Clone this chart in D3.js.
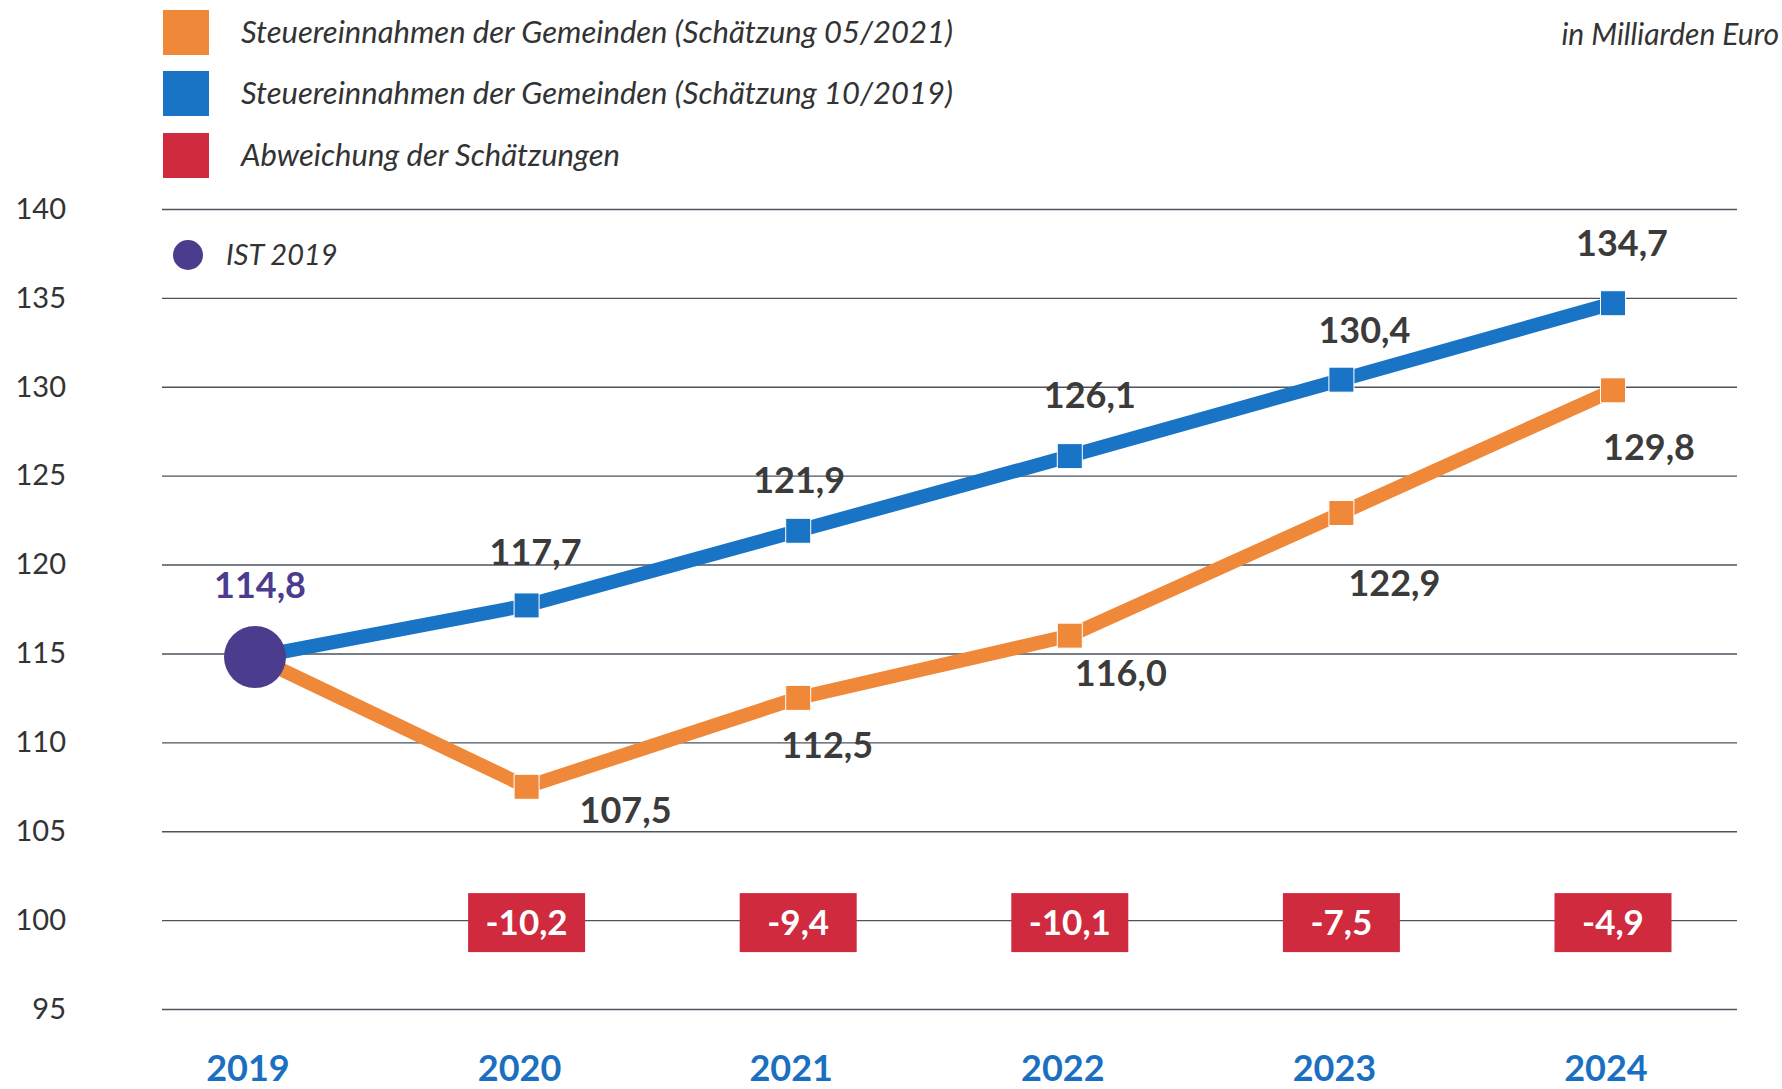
<!DOCTYPE html>
<html lang="de">
<head>
<meta charset="utf-8">
<title>Steuereinnahmen der Gemeinden</title>
<script src="https://cdn.jsdelivr.net/npm/d3@7"></script>
<style>
  html, body { margin: 0; padding: 0; background: #fff; }
  svg { display: block; font-family: Lato, "Open Sans", sans-serif; }
</style>
</head>
<body>
<script>
// data (Mrd. Euro)
const years = ["2019", "2020", "2021", "2022", "2023", "2024"];
const ist2019 = 114.8;
const est2019 = [114.8, 117.7, 121.9, 126.1, 130.4, 134.7];   // Schätzung 10/2019
const est2021 = [114.8, 107.5, 112.5, 116.0, 122.9, 129.8];   // Schätzung 05/2021
const deviation = [null, -10.2, -9.4, -10.1, -7.5, -4.9];
const yTicks = [95, 100, 105, 110, 115, 120, 125, 130, 135, 140];
const legendLabels = [
  "Steuereinnahmen der Gemeinden (Schätzung 05/2021)",
  "Steuereinnahmen der Gemeinden (Schätzung 10/2019)",
  "Abweichung der Schätzungen"
];

const W = 1782, H = 1089;
const colOrange = "#f0883a", colBlue = "#1a74c6", colRed = "#cf2a3e",
      colPurple = "#4b3c8e", colText = "#3b3b3b", colYear = "#1a6fc0";

// German number style, plain hyphen as minus
const de = d3.formatLocale({ decimal: ",", thousands: ".", grouping: [3], currency: ["", " €"], minus: "-" });
const fmt = de.format(".1f");

const svg = d3.select("body").append("svg")
  .attr("width", W).attr("height", H);

const x = d3.scalePoint().domain(years).range([255, 1613]);
const y = d3.scaleLinear().domain([95, 140]).range([1009, 209]);

// gridlines + y labels
const gridLeft = 162, gridRight = 1737;
const yAxis = svg.append("g")
  .attr("transform", `translate(${gridLeft},0)`)
  .call(d3.axisLeft(y).tickValues(yTicks)
    .tickSize(-(gridRight - gridLeft)).tickPadding(96));
yAxis.select(".domain").remove();
yAxis.selectAll(".tick line").attr("stroke", "#4d525c").attr("stroke-width", 1.4);
yAxis.selectAll(".tick text")
  .attr("font-family", "Lato, sans-serif")
  .attr("font-size", 29).attr("fill", "#333");

// x labels
svg.append("g").selectAll("text")
  .data(years).join("text")
  .attr("x", d => x(d) - 7)
  .attr("y", 1068 + 0.36 * 36)
  .attr("text-anchor", "middle")
  .attr("font-size", 36).attr("font-weight", 700)
  .attr("fill", colYear)
  .text(d => d);

// lines
const line = d3.line()
  .x((d, i) => x(years[i]))
  .y(d => y(d));

svg.append("path").datum(est2021)
  .attr("d", line).attr("fill", "none")
  .attr("stroke", colOrange).attr("stroke-width", 14);
svg.append("path").datum(est2019)
  .attr("d", line).attr("fill", "none")
  .attr("stroke", colBlue).attr("stroke-width", 14);

// square markers (skip 2019, covered by the IST dot)
const mk = 25;
function markers(series, color) {
  svg.append("g").selectAll("rect")
    .data(series.slice(1)).join("rect")
    .attr("x", (d, i) => x(years[i + 1]) - mk / 2)
    .attr("y", d => y(d) - mk / 2)
    .attr("width", mk).attr("height", mk)
    .attr("fill", color)
    .attr("stroke", "#fff").attr("stroke-width", 1);
}
markers(est2021, colOrange);
markers(est2019, colBlue);

// IST 2019 point
const lblSize = 36;
svg.append("circle")
  .attr("cx", x("2019")).attr("cy", y(ist2019)).attr("r", 31)
  .attr("fill", colPurple);
svg.append("text")
  .attr("x", x("2019") + 5).attr("y", 585 + 0.36 * lblSize)
  .attr("text-anchor", "middle")
  .attr("font-size", lblSize).attr("font-weight", 700)
  .attr("fill", colPurple)
  .text(fmt(ist2019));

// value labels, nudged by hand like the original
const blueNudge = [null, [9, -53], [1, -51], [20, -61], [23, -50], [9, -60]];
const orangeNudge = [null, [99, 23], [29, 47], [51, 37], [53, 70], [36, 57]];
function labels(series, nudge) {
  svg.append("g").selectAll("text")
    .data(series.map((v, i) => ({ v, i })).slice(1)).join("text")
    .attr("x", d => x(years[d.i]) + nudge[d.i][0])
    .attr("y", d => y(d.v) + nudge[d.i][1] + 0.36 * lblSize)
    .attr("text-anchor", "middle")
    .attr("font-size", lblSize).attr("font-weight", 700)
    .attr("fill", colText)
    .text(d => fmt(d.v));
}
labels(est2019, blueNudge);
labels(est2021, orangeNudge);

// deviation boxes on the 100 line
const boxW = 117, boxH = 59;
const dev = svg.append("g").selectAll("g")
  .data(deviation.map((v, i) => ({ v, i })).filter(d => d.v !== null))
  .join("g")
  .attr("transform", d => `translate(${x(years[d.i])},${y(100) + 2.5})`);
dev.append("rect")
  .attr("x", -boxW / 2).attr("y", -boxH / 2)
  .attr("width", boxW).attr("height", boxH)
  .attr("fill", colRed);
dev.append("text")
  .attr("y", 0.36 * 35)
  .attr("text-anchor", "middle")
  .attr("font-size", 35).attr("font-weight", 700)
  .attr("fill", "#fff")
  .text(d => fmt(d.v));

// legend
const legColors = [colOrange, colBlue, colRed];
const legY = [32, 93, 155];
const leg = svg.append("g").selectAll("g")
  .data(legendLabels).join("g")
  .attr("transform", (d, i) => `translate(163,${legY[i]})`);
leg.append("rect")
  .attr("x", 0).attr("y", -22).attr("width", 46).attr("height", 45)
  .attr("fill", (d, i) => legColors[i]);
leg.append("text")
  .attr("x", 78).attr("y", 0.36 * 31)
  .attr("font-size", 31).attr("font-style", "italic")
  .attr("fill", "#333")
  .text(d => d);

svg.append("circle")
  .attr("cx", 188).attr("cy", 255).attr("r", 15)
  .attr("fill", colPurple);
svg.append("text")
  .attr("x", 226).attr("y", 255 + 0.36 * 29)
  .attr("font-size", 29).attr("font-style", "italic")
  .attr("fill", "#333")
  .text("IST 2019");

svg.append("text")
  .attr("x", 1779).attr("y", 34 + 0.36 * 30)
  .attr("text-anchor", "end")
  .attr("font-size", 30).attr("font-style", "italic")
  .attr("fill", "#333")
  .text("in Milliarden Euro");
</script>
</body>
</html>
